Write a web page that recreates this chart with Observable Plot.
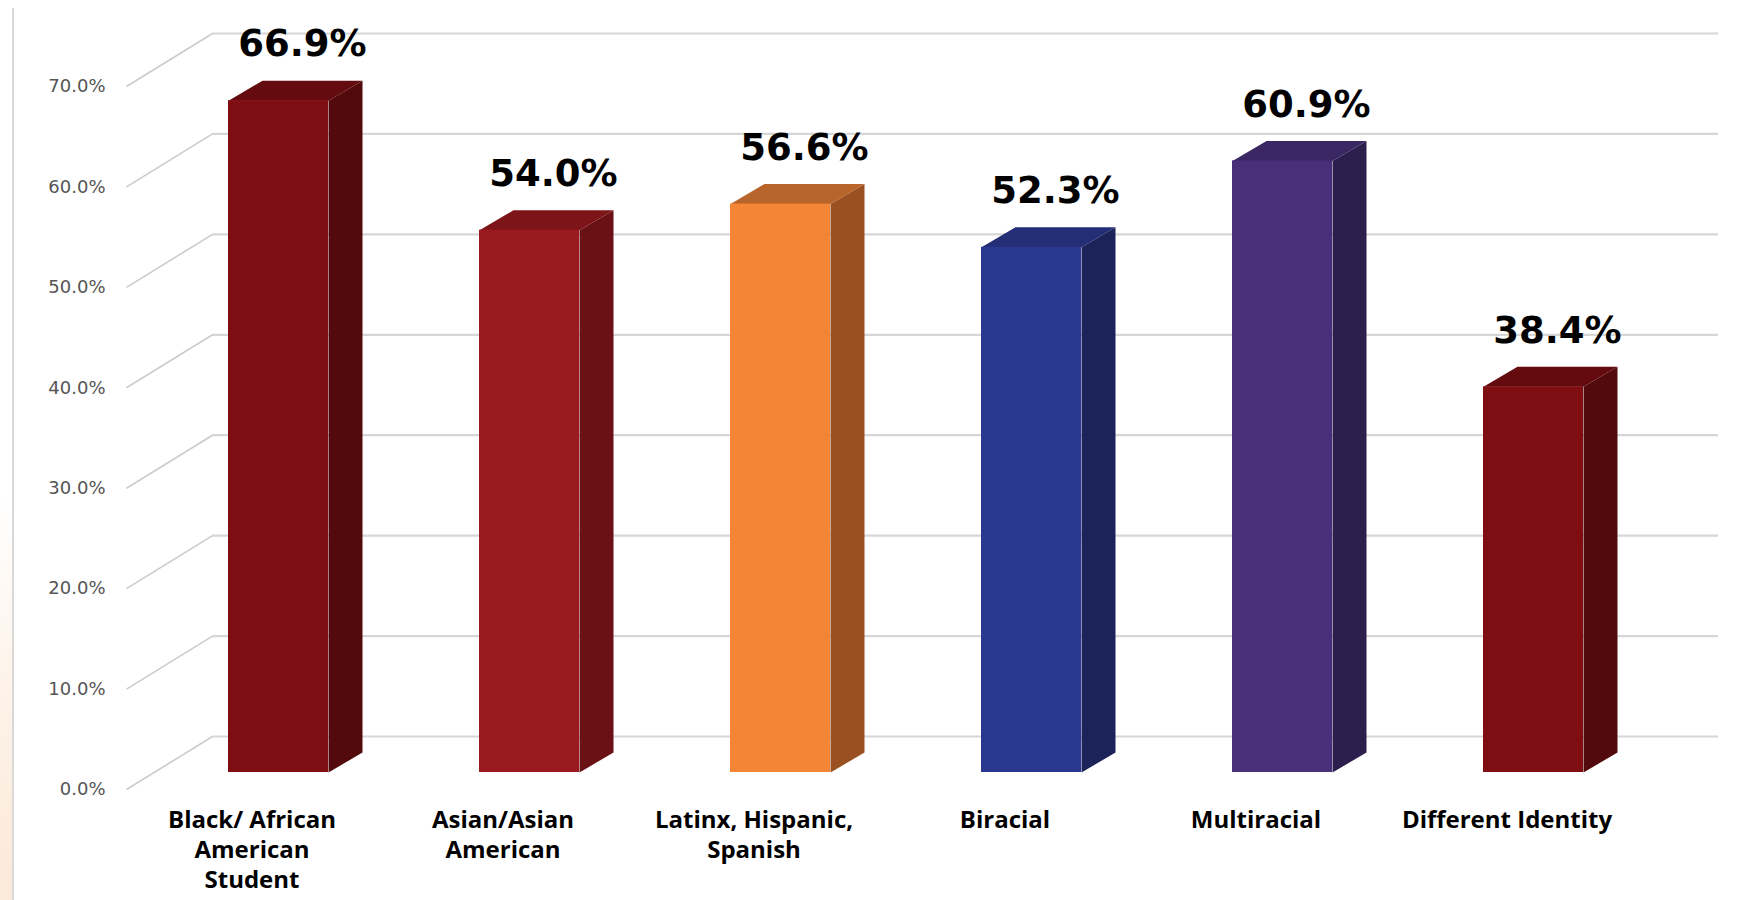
<!DOCTYPE html>
<html>
<head>
<meta charset="utf-8">
<script src="https://cdn.jsdelivr.net/npm/d3@7"></script>
<script src="https://cdn.jsdelivr.net/npm/@observablehq/plot@0.6"></script>
<style>
  html, body { margin: 0; padding: 0; background: #ffffff; }
  #wrap { position: relative; width: 1747px; height: 900px; overflow: hidden; }
  #edge { position: absolute; left: 0; top: 0; width: 12px; height: 900px;
          background: linear-gradient(to bottom, #ffffff 0%, #ffffff 55%, #fdf1e6 80%, #fbe9d9 100%); }
  #vline { position: absolute; left: 12px; top: 8px; width: 2px; height: 892px; background: #d9d9d9; }
  #chart { position: absolute; left: 0; top: 0; }
</style>
</head>
<body>
<div id="wrap">
  <div id="edge"></div>
  <div id="vline"></div>
  <div id="chart"></div>
</div>
<script>
// ---- data ----
const categories = ["Black/ African\nAmerican\nStudent", "Asian/Asian\nAmerican", "Latinx, Hispanic,\nSpanish", "Biracial", "Multiracial", "Different Identity"];
const values = [66.9, 54.0, 56.6, 52.3, 60.9, 38.4];
const valueLabels = ["66.9%", "54.0%", "56.6%", "52.3%", "60.9%", "38.4%"];
const tickValues = [0, 10, 20, 30, 40, 50, 60, 70];
const tickLabels = ["0.0%", "10.0%", "20.0%", "30.0%", "40.0%", "50.0%", "60.0%", "70.0%"];

// ---- styles ----
const frontColors = ["#7e0e12", "#9a1a20", "#f48534", "#2b388f", "#482f7a", "#7e0e12"];
const sideColors  = ["#520a0d", "#6a1116", "#9b5021", "#1b2358", "#2d1f4d", "#520a0d"];
const topColors   = ["#630b0f", "#7c1418", "#b8652b", "#232e76", "#3a2763", "#630b0f"];

const W = 1747, H = 900;
const ML = 152.5, MR = 88.5, MT = 69, MB = 128;
const ux = (W - ML - MR) / categories.length;   // px per x unit
const uy = (H - MT - MB) / 70;                   // px per percent

const halfW = 50 / ux;          // half bar width
const sideDX = 34 / ux;         // bar depth in x
const sideDY = 20 / uy;         // bar depth in y
const wallDX = 59.5 / ux;       // back wall offset
const wallDY = 36 / uy;
const frontDX = -26.5 / ux;     // front (label) plane offset
const frontDY = -17 / uy;

const bars = categories.map((c, i) => ({
  i, cat: c, v: values[i], label: valueLabels[i],
  cx: i + 0.5, front: frontColors[i], side: sideColors[i], top: topColors[i]
}));

const sidePts = bars.flatMap(b => {
  const x2 = b.cx + halfW;
  return [
    {k: b.i, c: b.side, x: x2, y: 0},
    {k: b.i, c: b.side, x: x2, y: b.v},
    {k: b.i, c: b.side, x: x2 + sideDX, y: b.v + sideDY},
    {k: b.i, c: b.side, x: x2 + sideDX, y: sideDY}
  ];
});
const topPts = bars.flatMap(b => {
  const x1 = b.cx - halfW, x2 = b.cx + halfW;
  return [
    {k: b.i, c: b.top, x: x1, y: b.v},
    {k: b.i, c: b.top, x: x2, y: b.v},
    {k: b.i, c: b.top, x: x2 + sideDX, y: b.v + sideDY},
    {k: b.i, c: b.top, x: x1 + sideDX, y: b.v + sideDY}
  ];
});

const chart = Plot.plot({
  width: W, height: H,
  marginLeft: ML, marginRight: MR, marginTop: MT, marginBottom: MB,
  x: {domain: [0, categories.length], axis: null},
  y: {domain: [0, 70], axis: null},
  color: {type: "identity"},
  style: {background: "transparent", overflow: "visible"},
  marks: [
    Plot.ruleY(tickValues, {x1: wallDX, x2: categories.length + wallDX, y: d => d + wallDY,
      stroke: "#d6d6d6", strokeWidth: 2.2}),
    Plot.link(tickValues, {x1: frontDX, y1: d => d + frontDY, x2: wallDX, y2: d => d + wallDY,
      stroke: "#cccccc", strokeWidth: 1.6}),
    Plot.text(tickValues, {x: frontDX, y: d => d + frontDY, text: (d, i) => tickLabels[i],
      textAnchor: "end", dx: -21, fontSize: 18, fill: "#555555", fontFamily: "DejaVu Sans"}),
    Plot.line(sidePts, {x: "x", y: "y", z: "k", fill: "c", stroke: "none"}),
    Plot.line(topPts, {x: "x", y: "y", z: "k", fill: "c", stroke: "none"}),
    Plot.rect(bars, {x1: b => b.cx - halfW, x2: b => b.cx + halfW, y1: 0, y2: "v", fill: "front"}),
    Plot.text(bars, {x: b => b.cx + 24 / ux, y: "v", text: "label", dy: -56, lineAnchor: "middle",
      fontSize: 37, fontWeight: "bold", fontFamily: "DejaVu Sans", fill: "#000000"}),
    Plot.text(bars, {x: b => b.cx + frontDX, y: 0, text: "cat", lineAnchor: "top", dy: 34,
      lineHeight: 1.25, fontSize: 24, fontWeight: "bold", fontFamily: "Open Sans", fill: "#000000"})
  ]
});
document.getElementById("chart").appendChild(chart);
</script>
</body>
</html>
